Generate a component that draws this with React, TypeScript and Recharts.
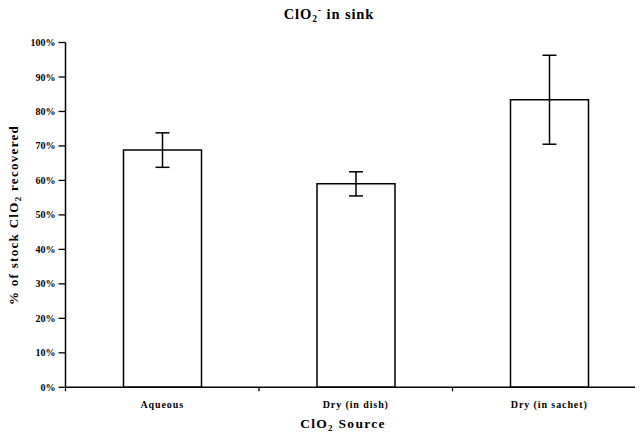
import React from 'react';
import { BarChart, Bar, XAxis, YAxis, ErrorBar } from 'recharts';

const categories = ['Aqueous', 'Dry (in dish)', 'Dry (in sachet)'];
const recovered = [68.8, 59.0, 83.4];
const errors = [5.0, 3.5, 12.9];
const yTicks = [0, 10, 20, 30, 40, 50, 60, 70, 80, 90, 100];

const data = categories.map((c, i) => ({ name: c, value: recovered[i], err: errors[i] }));

const FONT = '"Liberation Serif", "Times New Roman", serif';

const XTick = (props: any) => {
  const { x, y, payload } = props;
  const half = payload && payload.offset ? payload.offset : 96.75;
  return (
    <g>
      <line x1={x - half} x2={x - half} y1={y} y2={y + 4} stroke="#000" strokeWidth={1.3} />
      <text x={x} y={y + 21} textAnchor="middle" fontFamily={FONT} fontWeight="bold" fontSize={10} letterSpacing={0.9} fill="#000">
        {payload.value}
      </text>
    </g>
  );
};

export default function App() {
  return (
    <div style={{ position: 'relative', marginLeft: -8, marginTop: -8, width: 643, height: 434, overflow: 'hidden', background: '#fff' }}>
      <BarChart
        width={650}
        height={434}
        data={data}
        margin={{ top: 42.5, right: 4, bottom: 16.7, left: 5 }}
        barSize={78}
      >
        <XAxis
          dataKey="name"
          height={30}
          tickLine={false}
          tickSize={0}
          tickMargin={0}
          axisLine={{ stroke: '#000', strokeWidth: 1.5 }}
          tick={<XTick />}
          interval={0}
        />
        <YAxis
          width={60.5}
          domain={[0, 100]}
          ticks={yTicks}
          interval={0}
          tickFormatter={(v: number) => `${v}%`}
          tickSize={7}
          tickMargin={3}
          axisLine={{ stroke: '#000', strokeWidth: 1.5 }}
          tickLine={{ stroke: '#000', strokeWidth: 1.3 }}
          tick={{ fontFamily: FONT, fontWeight: 'bold', fontSize: 10, fill: '#000' }}
        />
        <Bar dataKey="value" fill="#fff" stroke="#000" strokeWidth={1.5} isAnimationActive={false}>
          <ErrorBar dataKey="err" width={7} stroke="#000" strokeWidth={1.5} />
        </Bar>
      </BarChart>
      <svg width={643} height={434} style={{ position: 'absolute', left: 0, top: 0, pointerEvents: 'none' }}>
        <text x={329} y={19} textAnchor="middle" fontFamily={FONT} fontWeight="bold" fontSize={14.5} fill="#000" letterSpacing={0.9}>
          ClO<tspan fontSize={9.5} dy={3}>2</tspan>
          <tspan fontSize={9.5} dy={-9}>-</tspan>
          <tspan dy={6}> in sink</tspan>
        </text>
        <text x={343} y={428} textAnchor="middle" fontFamily={FONT} fontWeight="bold" fontSize={13.5} fill="#000" letterSpacing={1.3}>
          ClO<tspan fontSize={9} dy={3}>2</tspan>
          <tspan dy={-3}> Source</tspan>
        </text>
        <text transform="translate(18,215) rotate(-90)" x={0} y={0} textAnchor="middle" fontFamily={FONT} fontWeight="bold" fontSize={13} fill="#000" letterSpacing={1.3}>
          % of stock ClO<tspan fontSize={9} dy={3}>2</tspan>
          <tspan dy={-3}> recovered</tspan>
        </text>
      </svg>
    </div>
  );
}
